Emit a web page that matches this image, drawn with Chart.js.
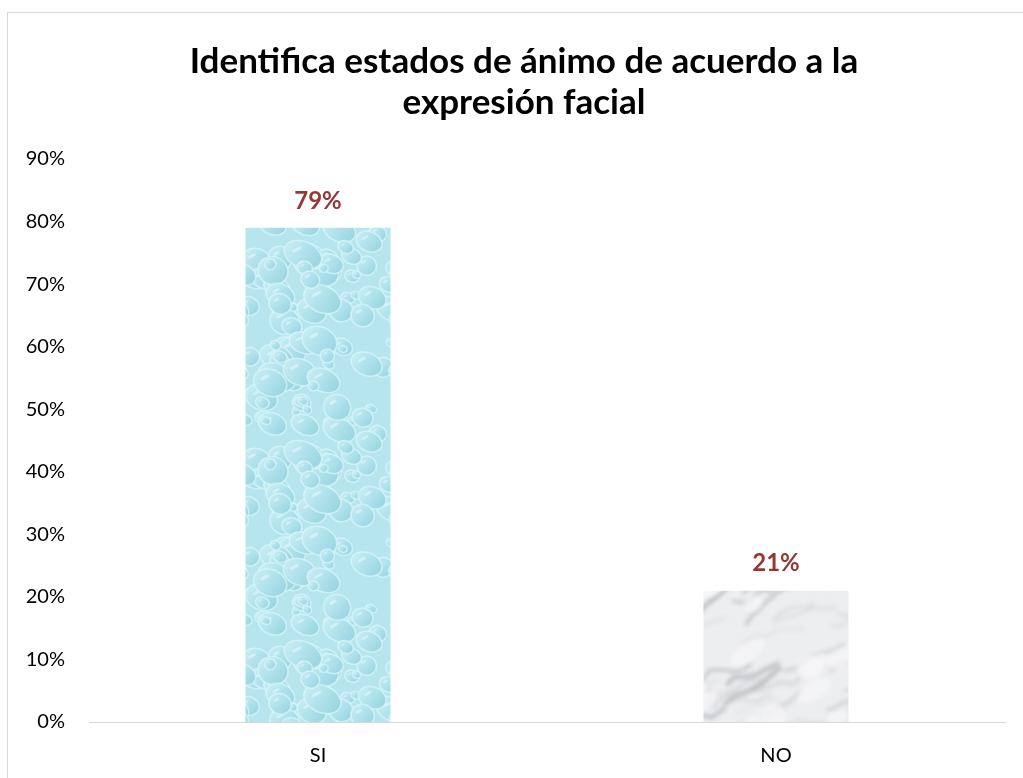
<!DOCTYPE html>
<html>
<head>
<meta charset="utf-8">
<script src="https://cdn.jsdelivr.net/npm/chart.js@4/dist/chart.umd.min.js"></script>
<style>
html,body{margin:0;padding:0;background:#fff;}
#frame{position:absolute;left:7px;top:12px;width:1030px;height:780px;border:1px solid #d9d9d9;box-sizing:border-box;}
#wrap{position:absolute;left:0;top:0;width:1023px;height:778px;}
</style>
</head>
<body>
<div id="frame"></div>
<div id="wrap"><canvas id="c" width="1023" height="778"></canvas></div>
<script>
const titleLines = ["Identifica estados de ánimo de acuerdo a la", "expresión facial"];
const categories = ["SI", "NO"];
const values = [0.79, 0.21];
const valueLabels = ["79%", "21%"];
const yTicks = [0, 0.1, 0.2, 0.3, 0.4, 0.5, 0.6, 0.7, 0.8, 0.9];

function hash(n){ const s = Math.sin(n*127.1+311.7)*43758.5453; return s - Math.floor(s); }

function waterPattern(ctx){
  const c = document.createElement('canvas'); c.width = 160; c.height = 200;
  const g = c.getContext('2d');
  g.fillStyle = '#b6e5ed'; g.fillRect(0,0,c.width,c.height);
  for(let i=0;i<95;i++){
    const x = hash(i)*c.width, y = hash(i+100)*c.height;
    const r = 3 + hash(i+200)*11;
    const rx = r*(1+hash(i+300)*0.5), ry = r;
    for(const dx of [-c.width,0,c.width]) for(const dy of [-c.height,0,c.height]){
      const gr = g.createLinearGradient(x+dx-rx, y+dy-ry, x+dx+rx, y+dy+ry);
      gr.addColorStop(0,'#cdeff5'); gr.addColorStop(0.55,'#ace0ea'); gr.addColorStop(1,'#94d2de');
      g.fillStyle = gr;
      g.beginPath(); g.ellipse(x+dx, y+dy, rx, ry, 0.4, 0, Math.PI*2); g.fill();
      g.strokeStyle = 'rgba(214,245,250,0.75)'; g.lineWidth = 1.6;
      g.stroke();
      g.fillStyle = 'rgba(236,252,255,0.5)';
      g.beginPath(); g.ellipse(x+dx-rx*0.3, y+dy-ry*0.4, rx*0.28, ry*0.13, -0.5, 0, Math.PI*2); g.fill();
    }
  }
  return ctx.createPattern(c,'repeat');
}
function marblePattern(ctx){
  const c = document.createElement('canvas'); c.width = 300; c.height = 260;
  const g = c.getContext('2d');
  g.fillStyle = '#edeef0'; g.fillRect(0,0,c.width,c.height);
  g.lineCap = 'round'; g.lineJoin = 'round';
  g.filter = 'blur(2px)';
  for(let i=0;i<90;i++){
    let x = hash(i+500)*c.width - 20, y = hash(i+600)*c.height + 10;
    const shade = 150 + Math.floor(hash(i+700)*70);
    g.strokeStyle = 'rgba('+shade+','+shade+','+(shade+4)+',0.55)';
    g.lineWidth = 1.2 + hash(i+800)*4;
    g.beginPath(); g.moveTo(x,y);
    for(let k=0;k<5;k++){
      x += 5 + hash(i*7+k)*11; y += (hash(i*11+k)-0.8)*13;
      g.lineTo(x,y);
    }
    g.stroke();
  }
  for(let i=0;i<45;i++){
    const x = hash(i+900)*c.width, y = hash(i+950)*c.height;
    g.fillStyle = 'rgba(248,248,250,0.65)';
    g.beginPath(); g.ellipse(x,y,8+hash(i+990)*14,5+hash(i+1010)*8,-0.6,0,Math.PI*2); g.fill();
  }
  return ctx.createPattern(c,'repeat');
}

const labelPlugin = {
  id:'valLabels',
  afterDatasetsDraw(chart){
    const ctx = chart.ctx;
    const meta = chart.getDatasetMeta(0);
    ctx.save();
    ctx.font = 'bold 24px Lato, "Open Sans", sans-serif';
    ctx.fillStyle = '#953735';
    ctx.textAlign = 'center'; ctx.textBaseline = 'middle';
    meta.data.forEach((bar,i)=>{ ctx.fillText(valueLabels[i], bar.x, bar.y - 27); });
    ctx.restore();
  }
};
const titlePlugin = {
  id:'offsetTitle',
  afterDraw(chart){
    const ctx = chart.ctx;
    ctx.save();
    ctx.font = 'bold 35px Lato, "Open Sans", sans-serif';
    ctx.fillStyle = '#000';
    ctx.textAlign = 'center'; ctx.textBaseline = 'middle';
    titleLines.forEach((t,i)=> ctx.fillText(t, 524, 62 + i*41));
    ctx.restore();
  }
};

const ctx = document.getElementById('c').getContext('2d');
new Chart(ctx, {
  type:'bar',
  data:{ labels:categories, datasets:[{ data:values, backgroundColor:[waterPattern(ctx), marblePattern(ctx)], borderWidth:0, categoryPercentage:1, barPercentage:0.3166 }]},
  options:{
    responsive:false, animation:false,
    layout:{ padding:{ left:0, right:18, top:159, bottom:0 } },
    plugins:{
      legend:{display:false}, tooltip:{enabled:false}, title:{display:false}
    },
    scales:{
      x:{ grid:{ display:false, drawTicks:false }, border:{ display:true, color:'#d9d9d9', width:1 },
          afterFit(ax){ ax.height = 56; },
          ticks:{ color:'#000', font:{ family:'Lato, "Open Sans", sans-serif', size:20 }, padding:22 } },
      y:{ min:0, max:0.9, afterBuildTicks(ax){ ax.ticks = yTicks.map(v=>({value:v})); },
          afterFit(ax){ ax.width = 89; },
          grid:{ display:false, drawTicks:false }, border:{ display:false },
          ticks:{ color:'#000', font:{ family:'Lato, "Open Sans", sans-serif', size:20 }, padding:24,
                  callback:v=>Math.round(v*100)+'%' } }
    }
  },
  plugins:[labelPlugin, titlePlugin]
});
</script>
</body>
</html>
